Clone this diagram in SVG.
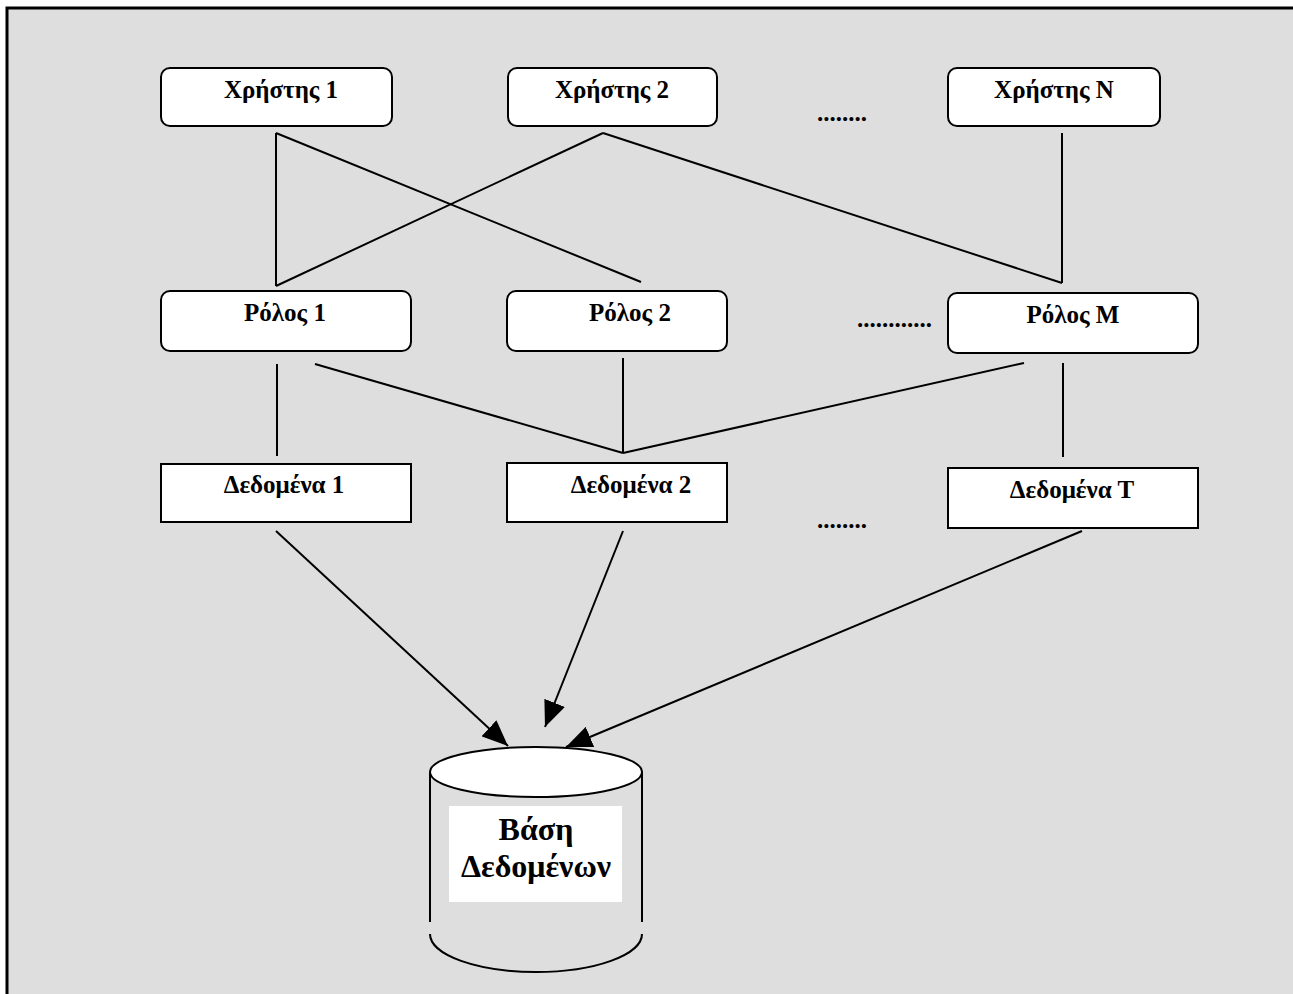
<svg xmlns="http://www.w3.org/2000/svg" width="1293" height="994" viewBox="0 0 1293 994">
  <style>
    .frame { fill: #dedede; stroke: #000; stroke-width: 3; }
    .box { fill: #fff; stroke: #000; stroke-width: 2; }
    .wire { fill: none; stroke: #000; stroke-width: 2; }
    .lbl { font-family: "Liberation Serif", "Times New Roman", serif; font-weight: bold; font-size: 25px; fill: #000; text-anchor: middle; }
    .dots { font-family: "Liberation Serif", "Times New Roman", serif; font-weight: bold; font-size: 25px; fill: #000; }
    .db { font-family: "Liberation Serif", "Times New Roman", serif; font-weight: bold; font-size: 32px; fill: #000; text-anchor: middle; }
  </style>
  <defs>
    <marker id="arrow" markerUnits="userSpaceOnUse" markerWidth="28" markerHeight="22" refX="26" refY="11" orient="auto">
      <path d="M0,0 L26,11 L0,22 Z" fill="#000"/>
    </marker>
  </defs>

  <!-- outer frame -->
  <rect class="frame" x="7" y="8" width="1300" height="1000"/>

  <!-- connectors -->
  <g id="connectors">
    <!-- users to roles -->
    <line class="wire" x1="276" y1="133" x2="276" y2="286"/>
    <line class="wire" x1="276" y1="133" x2="641" y2="282"/>
    <line class="wire" x1="276" y1="286" x2="603" y2="133"/>
    <line class="wire" x1="603" y1="133" x2="1062" y2="283"/>
    <line class="wire" x1="1062" y1="133" x2="1062" y2="283"/>
    <!-- roles to data -->
    <line class="wire" x1="277" y1="364" x2="277" y2="456"/>
    <line class="wire" x1="315" y1="364" x2="623" y2="453"/>
    <line class="wire" x1="623" y1="358" x2="623" y2="453"/>
    <line class="wire" x1="623" y1="453" x2="1024" y2="363"/>
    <line class="wire" x1="1063" y1="363" x2="1063" y2="457"/>
    <!-- data to database -->
    <line class="wire" x1="276" y1="531" x2="508" y2="746" marker-end="url(#arrow)"/>
    <line class="wire" x1="623" y1="531" x2="545" y2="727" marker-end="url(#arrow)"/>
    <line class="wire" x1="1082" y1="531" x2="566" y2="747" marker-end="url(#arrow)"/>
  </g>

  <!-- users -->
  <g id="user1">
    <rect class="box" x="161" y="68" width="231" height="58" rx="9"/>
    <text class="lbl" x="281" y="98">Χρήστης 1</text>
  </g>
  <g id="user2">
    <rect class="box" x="508" y="68" width="209" height="58" rx="9"/>
    <text class="lbl" x="612" y="98">Χρήστης 2</text>
  </g>
  <g id="userN">
    <rect class="box" x="948" y="68" width="212" height="58" rx="9"/>
    <text class="lbl" x="1054" y="98">Χρήστης N</text>
  </g>
  <text class="dots" x="817" y="121">........</text>

  <!-- roles -->
  <g id="role1">
    <rect class="box" x="161" y="291" width="250" height="60" rx="9"/>
    <text class="lbl" x="285" y="321">Ρόλος 1</text>
  </g>
  <g id="role2">
    <rect class="box" x="507" y="291" width="220" height="60" rx="9"/>
    <text class="lbl" x="630" y="321">Ρόλος 2</text>
  </g>
  <g id="roleM">
    <rect class="box" x="948" y="293" width="250" height="60" rx="9"/>
    <text class="lbl" x="1073" y="323">Ρόλος Μ</text>
  </g>
  <text class="dots" x="857" y="327">............</text>

  <!-- data -->
  <g id="data1">
    <rect class="box" x="161" y="464" width="250" height="58"/>
    <text class="lbl" x="284" y="493">Δεδομένα 1</text>
  </g>
  <g id="data2">
    <rect class="box" x="507" y="463" width="220" height="59"/>
    <text class="lbl" x="631" y="493">Δεδομένα 2</text>
  </g>
  <g id="dataT">
    <rect class="box" x="948" y="468" width="250" height="60"/>
    <text class="lbl" x="1072" y="498">Δεδομένα Τ</text>
  </g>
  <text class="dots" x="817" y="528">........</text>

  <!-- database cylinder -->
  <g id="database">
    <line class="wire" x1="430" y1="772" x2="430" y2="922"/>
    <line class="wire" x1="642" y1="772" x2="642" y2="922"/>
    <path class="wire" d="M430,934 A106,38 0 0 0 642,934"/>
    <ellipse class="box" cx="536" cy="772" rx="106" ry="25"/>
    <rect x="449" y="806" width="173" height="96" fill="#fff"/>
    <text class="db" x="536" y="840">Βάση</text>
    <text class="db" x="536" y="877">Δεδομένων</text>
  </g>
</svg>
